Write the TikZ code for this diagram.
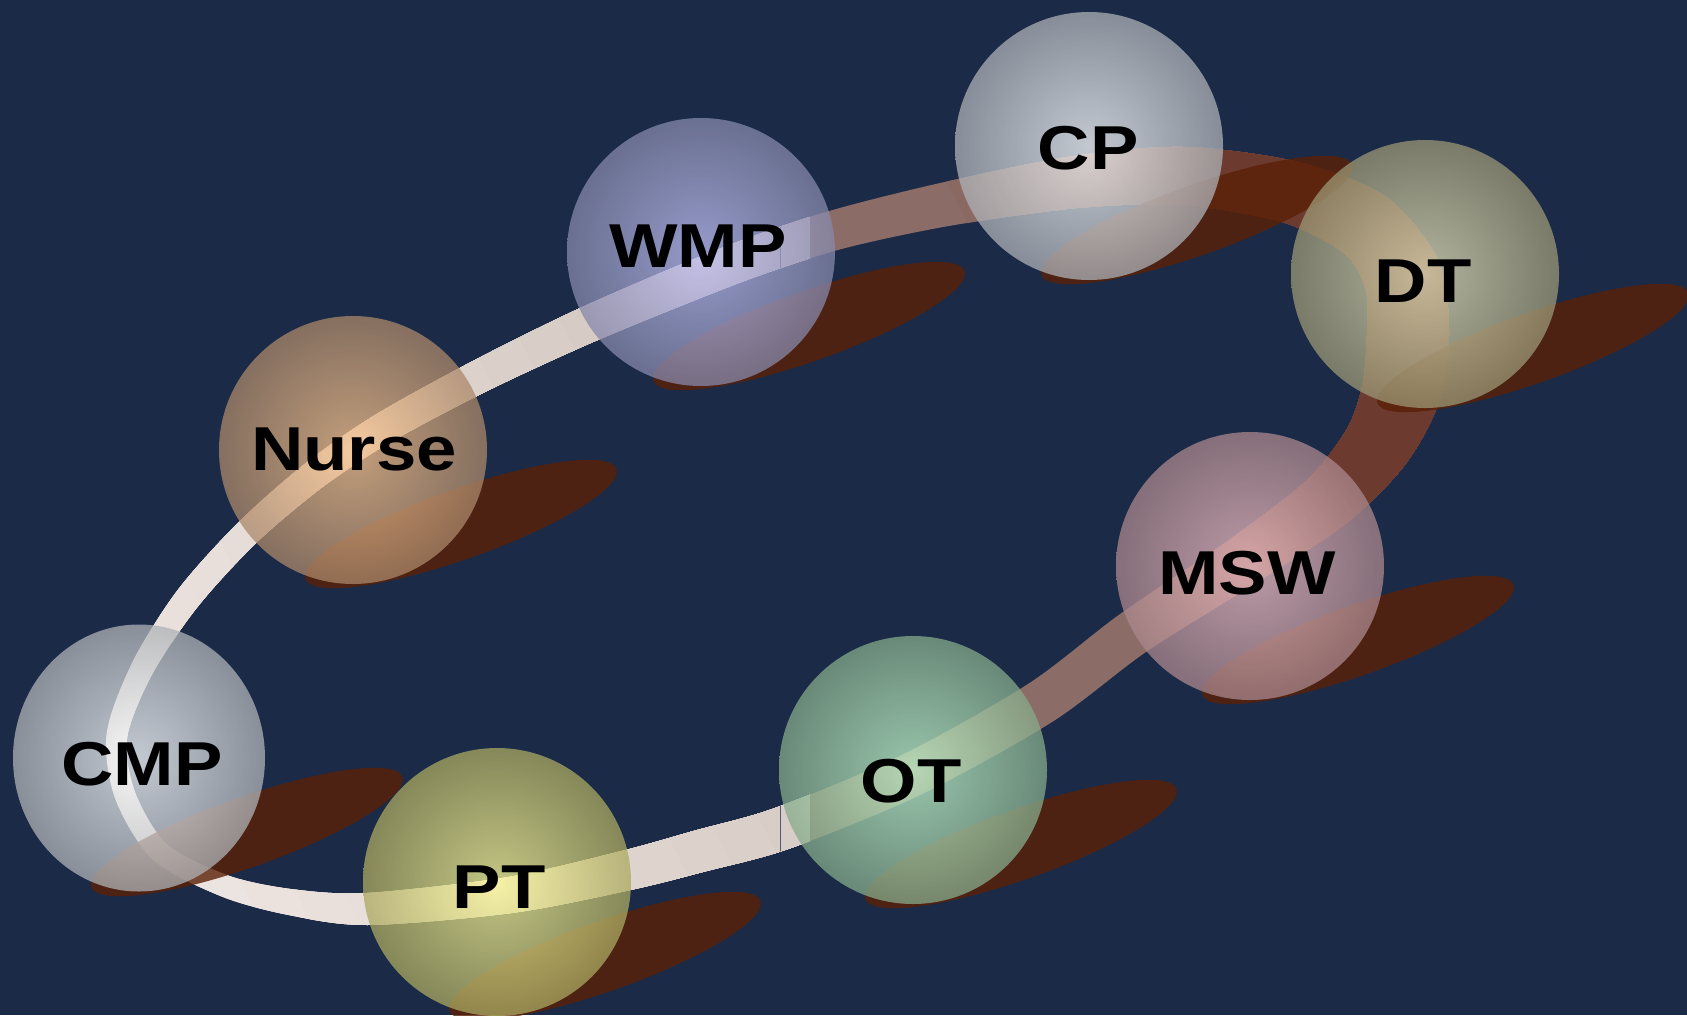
\documentclass[tikz,border=0pt]{standalone}
\usepackage{fontspec}
\setmainfont{Liberation Sans}
\usepackage{graphicx}
\usetikzlibrary{calc,shapes.geometric}

\definecolor{bg}{RGB}{26,42,71}
\definecolor{ringlightA}{RGB}{238,230,226}
\definecolor{ringlightB}{RGB}{212,199,193}
\definecolor{ringmid}{RGB}{140,108,102}
\definecolor{ringdark}{RGB}{108,58,46}
\definecolor{shadowc}{RGB}{90,32,6}
\definecolor{seam}{RGB}{80,90,112}
% sphere colours (centre / rim)
\definecolor{cpIn}{RGB}{252,254,255}   \definecolor{cpOut}{RGB}{172,176,181}
\definecolor{wmpIn}{RGB}{192,192,246}  \definecolor{wmpOut}{RGB}{134,136,170}
\definecolor{dtIn}{RGB}{228,226,188}   \definecolor{dtOut}{RGB}{154,151,116}
\definecolor{nurIn}{RGB}{252,198,142}  \definecolor{nurOut}{RGB}{170,135,105}
\definecolor{mswIn}{RGB}{242,192,198}  \definecolor{mswOut}{RGB}{170,135,140}
\definecolor{cmpIn}{RGB}{252,254,255}  \definecolor{cmpOut}{RGB}{174,178,182}
\definecolor{ptIn}{RGB}{252,250,152}   \definecolor{ptOut}{RGB}{170,168,96}
\definecolor{otIn}{RGB}{196,250,206}   \definecolor{otOut}{RGB}{133,170,138}

\tikzset{
  ball/.style={circle, draw=none, inner sep=0pt, minimum size=268pt, fill opacity=0.75},
  blob/.style={ellipse, draw=none, inner sep=0pt, minimum width=330pt, minimum height=70pt,
               rotate=19.5, fill=shadowc, fill opacity=0.8},
  lbl/.style={font=\fontsize{62}{70}\selectfont\bfseries, text=black, anchor=base, inner sep=0pt},
}

\begin{document}
\begin{tikzpicture}[x=1pt,y=-1pt]
\useasboundingbox (0,0) rectangle (1687,1015);
\clip (0,0) rectangle (1687,1015);
\fill[bg] (0,0) rectangle (1687,1015);

% centres of the spheres
\coordinate (cCP) at (1089,146);
\coordinate (cWMP) at (701,252);
\coordinate (cDT) at (1425,274);
\coordinate (cNurse) at (353,450);
\coordinate (cMSW) at (1250,566);
\coordinate (cCMP) at (139,758);
\coordinate (cOT) at (913,770);
\coordinate (cPT) at (497,882);

% centre line of the ring with its local width
\foreach \i/\x/\y/\w in {
  1/117/735/21, 2/143/667/23, 3/188/598/26, 4/247/533/27, 5/313/476/29,
  6/382/429/31, 7/480/376/33, 8/580/328/36, 9/674/288/38, 10/753/257/39,
  11/839/229/40, 12/947/204/44, 13/1076/182/52, 14/1183/176/58, 15/1290/192/62,
  16/1365/225/70, 17/1402/275/78, 18/1408/335/82, 19/1400/395/78, 20/1375/448/68,
  21/1325/503/58, 22/1240/563/50, 23/1133/633/46, 24/1040/703/45, 25/911/775/44,
  26/783/828/43, 27/700/851/42, 28/628/870/40, 29/510/895/36, 30/367/909/32,
  31/290/902/26, 32/225/886/22, 33/160/852/21, 34/125/795/21}{
  \coordinate (P\i) at (\x,\y);
  \expandafter\xdef\csname ringw\i\endcsname{\w}
}
\foreach \i in {1,...,34}{
  \pgfmathtruncatemacro\prv{mod(\i+32,34)+1}
  \pgfmathtruncatemacro\nxt{mod(\i,34)+1}
  \pgfmathsetmacro\hw{\csname ringw\i\endcsname/2}
  \coordinate (T\i) at ($(P\i)+(P\nxt)-(P\prv)$);
  \coordinate (A\i) at ($(P\i)!\hw pt!90:(T\i)$);
  \coordinate (B\i) at ($(P\i)!\hw pt!-90:(T\i)$);
}
\def\ringpath{plot[smooth cycle] coordinates {(A1) (A2) (A3) (A4) (A5) (A6) (A7) (A8) (A9) (A10) (A11) (A12) (A13) (A14) (A15) (A16) (A17) (A18) (A19) (A20) (A21) (A22) (A23) (A24) (A25) (A26) (A27) (A28) (A29) (A30) (A31) (A32) (A33) (A34)}
  plot[smooth cycle] coordinates {(B1) (B2) (B3) (B4) (B5) (B6) (B7) (B8) (B9) (B10) (B11) (B12) (B13) (B14) (B15) (B16) (B17) (B18) (B19) (B20) (B21) (B22) (B23) (B24) (B25) (B26) (B27) (B28) (B29) (B30) (B31) (B32) (B33) (B34)}}

% the ring, light on the left and darkening towards the upper right
\begin{scope}[even odd rule]
  \clip \ringpath;
  \begin{scope}
    \clip (0,0) rectangle (810,1015);
    \fill[ringlightA] (0,0) rectangle (810,1015);
    \foreach \k in {1,...,16}{
      \pgfmathsetmacro\g{-300+50*\k}
      \pgfmathsetmacro\p{100*\k/16}
      \fill[ringlightB!\p!ringlightA] (\g,0) -- (1800,0) -- (1800,1015) -- ({\g+507.5},1015) -- cycle;
    }
  \end{scope}
  \begin{scope}
    \clip (810,0) rectangle (1687,1015);
    \fill[ringmid] (810,0) rectangle (1687,1015);
    \foreach \k in {1,...,16}{
      \pgfmathsetmacro\g{840+16*\k}
      \pgfmathsetmacro\p{100*\k/16}
      \fill[ringdark!\p!ringmid] (\g,0) -- (1800,0) -- (1800,1015) -- ({\g+507.5},1015) -- cycle;
    }
  \end{scope}
  \draw[seam, line width=0.8pt] (780,0) -- (780,1015);
\end{scope}

% cast shadows
\foreach \n in {CP,WMP,DT,Nurse,MSW,CMP,OT,PT}{
  \node[blob] (s\n) at ($(c\n)+(108,74)$) {};
}

% spheres
\node[ball, inner color=cpIn, outer color=cpOut] (CP) at (cCP) {};
\node[ball, inner color=wmpIn, outer color=wmpOut] (WMP) at (cWMP) {};
\node[ball, inner color=dtIn, outer color=dtOut] (DT) at (cDT) {};
\node[ball, inner color=nurIn, outer color=nurOut] (Nurse) at (cNurse) {};
\node[ball, inner color=mswIn, outer color=mswOut] (MSW) at (cMSW) {};
\node[ball, shape=ellipse, minimum width=252pt, minimum height=267pt,
      inner color=cmpIn, outer color=cmpOut] (CMP) at (cCMP) {};
\node[ball, inner color=otIn, outer color=otOut] (OT) at (cOT) {};
\node[ball, inner color=ptIn, outer color=ptOut] (PT) at (cPT) {};

% labels
\node[lbl] (tCP) at (1088,169) {\scalebox{1.17}[1]{CP}};
\node[lbl] (tWMP) at (698,267) {\scalebox{1.17}[1]{WMP}};
\node[lbl] (tDT) at (1423,302) {\scalebox{1.17}[1]{DT}};
\node[lbl] (tNurse) at (354,470) {\scalebox{1.17}[1]{Nurse}};
\node[lbl] (tMSW) at (1247,594) {\scalebox{1.17}[1]{MSW}};
\node[lbl] (tCMP) at (142,785) {\scalebox{1.17}[1]{CMP}};
\node[lbl] (tOT) at (911,802) {\scalebox{1.17}[1]{OT}};
\node[lbl] (tPT) at (499,908) {\scalebox{1.17}[1]{PT}};
\end{tikzpicture}
\end{document}
